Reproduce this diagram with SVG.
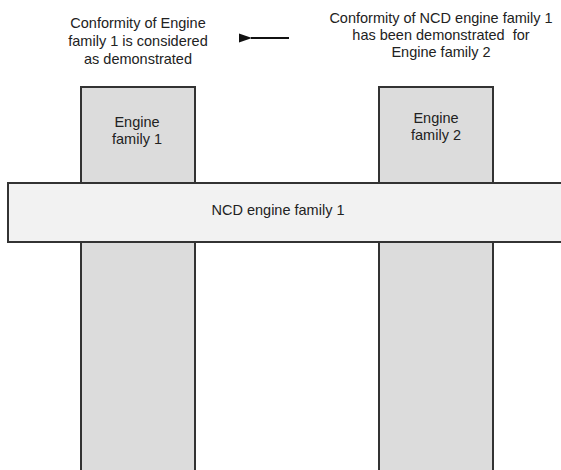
<svg xmlns="http://www.w3.org/2000/svg" width="561" height="470" viewBox="0 0 561 470">
<style>
text{font-family:"Liberation Sans",Arial,sans-serif;font-size:14.5px;fill:#222;text-anchor:middle;white-space:pre}
.col{fill:#dcdcdc;stroke:#333;stroke-width:2}
.bar{fill:#f2f2f2;stroke:#333;stroke-width:2}
</style>
<defs>
<marker id="ah" markerWidth="13" markerHeight="10" refX="1" refY="5" orient="auto" markerUnits="userSpaceOnUse">
<path d="M13,0.5 L0,5 L13,9.5 Z" fill="#111"/>
</marker>
</defs>
<rect width="561" height="470" fill="#fff"/>
<g id="ef1">
<rect class="col" x="81" y="87" width="114" height="390"/>
<text x="137" y="127">Engine</text>
<text x="137" y="144">family 1</text>
</g>
<g id="ef2">
<rect class="col" x="379" y="87" width="114" height="390"/>
<text x="436" y="123">Engine</text>
<text x="436" y="140">family 2</text>
</g>
<g id="ncd">
<rect class="bar" x="8" y="183" width="560" height="59"/>
<text x="278" y="215">NCD engine family 1</text>
</g>
<g id="label-left">
<text x="138" y="28">Conformity of Engine</text>
<text x="138" y="46">family 1 is considered</text>
<text x="138" y="64">as demonstrated</text>
</g>
<g id="label-right">
<text x="441" y="23">Conformity of NCD engine family 1</text>
<text x="441" y="40" xml:space="preserve">has been demonstrated  for</text>
<text x="441" y="57">Engine family 2</text>
</g>
<g id="connectors">
<line x1="289" y1="38" x2="251" y2="38" stroke="#111" stroke-width="2" marker-end="url(#ah)"/>
</g>
</svg>
